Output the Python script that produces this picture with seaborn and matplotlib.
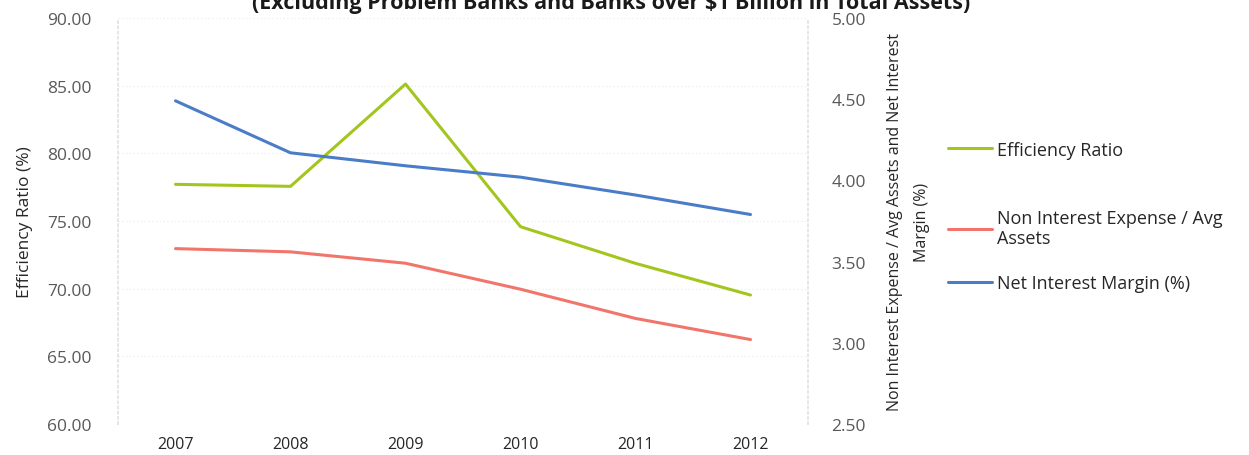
import matplotlib
matplotlib.use("Agg")
import matplotlib.pyplot as plt
import seaborn as sns
import pandas as pd

# Peer-group ratios by year
years = ["2007", "2008", "2009", "2010", "2011", "2012"]
efficiency_ratio = [77.71, 77.56, 85.12, 74.58, 71.87, 69.53]
nonint_expense_avg_assets = [3.58, 3.56, 3.49, 3.33, 3.15, 3.02]
net_interest_margin = [4.49, 4.17, 4.09, 4.02, 3.91, 3.79]

left_ticks = [60, 65, 70, 75, 80, 85, 90]
right_ticks = [2.5, 3.0, 3.5, 4.0, 4.5, 5.0]

sns.set_theme(style="white")
plt.rcParams["font.family"] = ["Open Sans", "DejaVu Sans"]

GREEN = "#a3c61f"
RED = "#f2756b"
BLUE = "#4a7cc7"
TICK_COLOR = "#595959"
TEXT_COLOR = "#262626"

df = pd.DataFrame({
    "pos": range(len(years)),
    "eff": efficiency_ratio,
    "nie": nonint_expense_avg_assets,
    "nim": net_interest_margin,
})

fig = plt.figure(figsize=(12.49, 4.56), dpi=100)
ax = fig.add_axes([118 / 1249, 1 - 425 / 456, 690 / 1249, 406 / 456])
ax2 = ax.twinx()

sns.lineplot(data=df, x="pos", y="eff", ax=ax, color=GREEN, linewidth=2.2,
             label="Efficiency Ratio", legend=False)
sns.lineplot(data=df, x="pos", y="nie", ax=ax2, color=RED, linewidth=2.2,
             label="Non Interest Expense / Avg\nAssets", legend=False)
sns.lineplot(data=df, x="pos", y="nim", ax=ax2, color=BLUE, linewidth=2.2,
             label="Net Interest Margin (%)", legend=False)

ax.set_xlim(-0.5, len(years) - 0.5)
ax.set_ylim(60, 90)
ax2.set_ylim(2.5, 5.0)

ax.set_xticks(range(len(years)))
ax.set_xticklabels(years)
ax.set_yticks(left_ticks)
ax.set_yticklabels([f"{v:.2f}" for v in left_ticks])
ax2.set_yticks(right_ticks)
ax2.set_yticklabels([f"{v:.2f}" for v in right_ticks])

ax.tick_params(axis="x", length=0, pad=9, labelsize=11.5, labelcolor=TEXT_COLOR)
ax.tick_params(axis="y", length=0, pad=19, labelsize=12.5, labelcolor=TICK_COLOR)
ax2.tick_params(axis="y", length=0, pad=17, labelsize=12.5, labelcolor=TICK_COLOR)

ax.yaxis.grid(True, color="#ededed", linestyle=(0, (1, 2)), linewidth=0.9)
ax.xaxis.grid(False)

for a in (ax, ax2):
    for side, sp in a.spines.items():
        sp.set_color("#e6e6e6")
        sp.set_linestyle((0, (1, 2)))
        sp.set_visible(side in ("left", "right"))

ax.set_xlabel("")
ax.set_ylabel("Efficiency Ratio (%)", fontsize=12.5, color=TEXT_COLOR, labelpad=10)
ax2.set_ylabel("Non Interest Expense / Avg Assets and Net Interest\nMargin (%)",
               fontsize=11.5, color=TEXT_COLOR, labelpad=15, linespacing=1.95)

fig.text(0.489, 1 - 9 / 456,
         "(Excluding Problem Banks and Banks over $1 Billion in Total Assets)",
         ha="center", va="baseline", fontsize=15.5, fontweight="bold", color="#1a1a1a")

# One legend block per series, stacked to the right of the plot
handles = ax.get_lines()[:1] + ax2.get_lines()[:2]
legend_rows = [150.5, 229, 284]
for h, row in zip(handles, legend_rows):
    fig.legend([h], [h.get_label()], loc="center left",
               bbox_to_anchor=(948 / 1249, 1 - row / 456),
               frameon=False, fontsize=13, handlelength=2.45, handletextpad=0.25,
               borderaxespad=0, borderpad=0, labelcolor=TEXT_COLOR)

fig.savefig("out.png", dpi=100)
